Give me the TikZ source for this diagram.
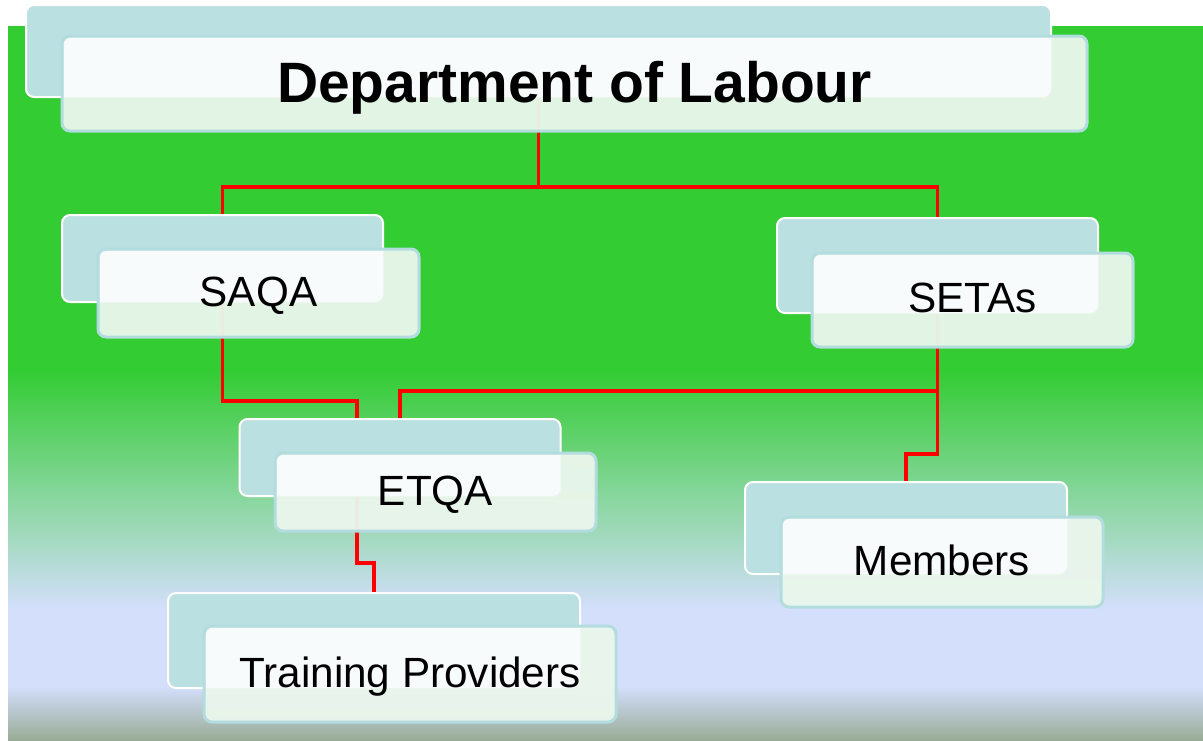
\documentclass[tikz,border=0pt]{standalone}
\usepackage{fontspec}
\setmainfont{Liberation Sans}
\definecolor{bggreen}{HTML}{33CC33}
\definecolor{bgmid}{HTML}{88D59C}
\definecolor{bglav}{HTML}{D4DFFC}
\definecolor{bggray}{HTML}{98AC97}
\definecolor{backfill}{HTML}{BBE0E2}
\definecolor{frontfill}{HTML}{EAF6EC}
\definecolor{frontline}{HTML}{B3DCDF}
\definecolor{overlapfill}{HTML}{F7FBFB}
\newcommand{\deptfont}{\bfseries\fontsize{42.7}{50}\selectfont}
\newcommand{\boxfont}{\fontsize{31.7}{38}\selectfont}
\tikzset{
  backbox/.style={rectangle, rounded corners=6pt, fill=backfill, draw=white, line width=1.5pt, inner sep=0pt, outer sep=0pt},
  frontbox/.style={rectangle, rounded corners=6pt, fill=frontfill, fill opacity=0.96, draw=frontline, line width=2.25pt, inner sep=0pt, outer sep=0pt},
  boxtext/.style={inner sep=0pt, text=black},
  conn/.style={draw=red, line width=2.6pt}
}
\newcommand{\orgbox}[9]{%
  \node[backbox, minimum width=#4*0.75pt, minimum height=#5*0.75pt] (#1B) at (#2) {};
  \node[frontbox, minimum width=#4*0.75pt, minimum height=#6*0.75pt] (#1F) at (#3) {};
  \begin{scope}
    \clip[rounded corners=5pt] ([shift={(2,-2)}]#1F.south west) rectangle ([shift={(-2,2)}]#1F.north east);
    \fill[overlapfill, rounded corners=6pt] (#1B.south west) rectangle (#1B.north east);
  \end{scope}
  \node[boxtext, font=#7, anchor=base] (#1) at ([shift={(0,#8)}]#1F.center) {#9};
}
\begin{document}
\begin{tikzpicture}[x=0.75pt, y=-0.75pt]
\useasboundingbox (0,0) rectangle (1203,740);
% background
\fill[white] (0,0) rectangle (1203,740);
\fill[bggreen] (8,26) rectangle (1203,370);
\shade[top color=bggreen, middle color=bgmid, bottom color=bglav] (8,370) rectangle (1203,610);
\fill[bglav] (8,610) rectangle (1203,686);
\shade[top color=bglav, bottom color=bggray] (8,686) rectangle (1203,740);

% junction coordinates
\coordinate (j1) at (539,187);
\coordinate (j2) at (357,401);
\coordinate (j3) at (357,563);
\coordinate (j4) at (937.5,391);
\coordinate (j5) at (937.5,454);

% centres of the back boxes
\path (538.5,51) coordinate (deptC) (222.5,258.5) coordinate (saqaC)
      (937.5,265.5) coordinate (setasC) (400,457.5) coordinate (etqaC)
      (374,640.5) coordinate (tpC) (906,528) coordinate (membersC);

% connectors (under the boxes)
\draw[conn] (deptC) -- (deptC |- j1) -- (j1);
\draw[conn] (j1) -| (saqaC);
\draw[conn] (j1) -| (setasC);
\draw[conn] (saqaC) |- (j2) -- (j3) -| (tpC);
\draw[conn] (setasC) -- (j4) -| (etqaC);
\draw[conn] (j4) -- (j5) -| (membersC);

% boxes
\orgbox{dept}{deptC}{574.5,83.5}{1025}{92}{95}{\deptfont}{18.5}{Department of Labour}
\orgbox{saqa}{saqaC}{258.5,293}{321}{87}{88}{\boxfont}{13}{SAQA}
\orgbox{setas}{setasC}{972.5,300}{321}{95}{94}{\boxfont}{12}{SETAs}
\orgbox{etqa}{etqaC}{435.5,492}{321}{77}{78}{\boxfont}{13}{ETQA}
\orgbox{tp}{tpC}{410,674}{412}{95}{96}{\boxfont}{13}{Training Providers}
\orgbox{members}{membersC}{942,562}{322}{92}{90}{\boxfont}{13}{Members}
\end{tikzpicture}
\end{document}
